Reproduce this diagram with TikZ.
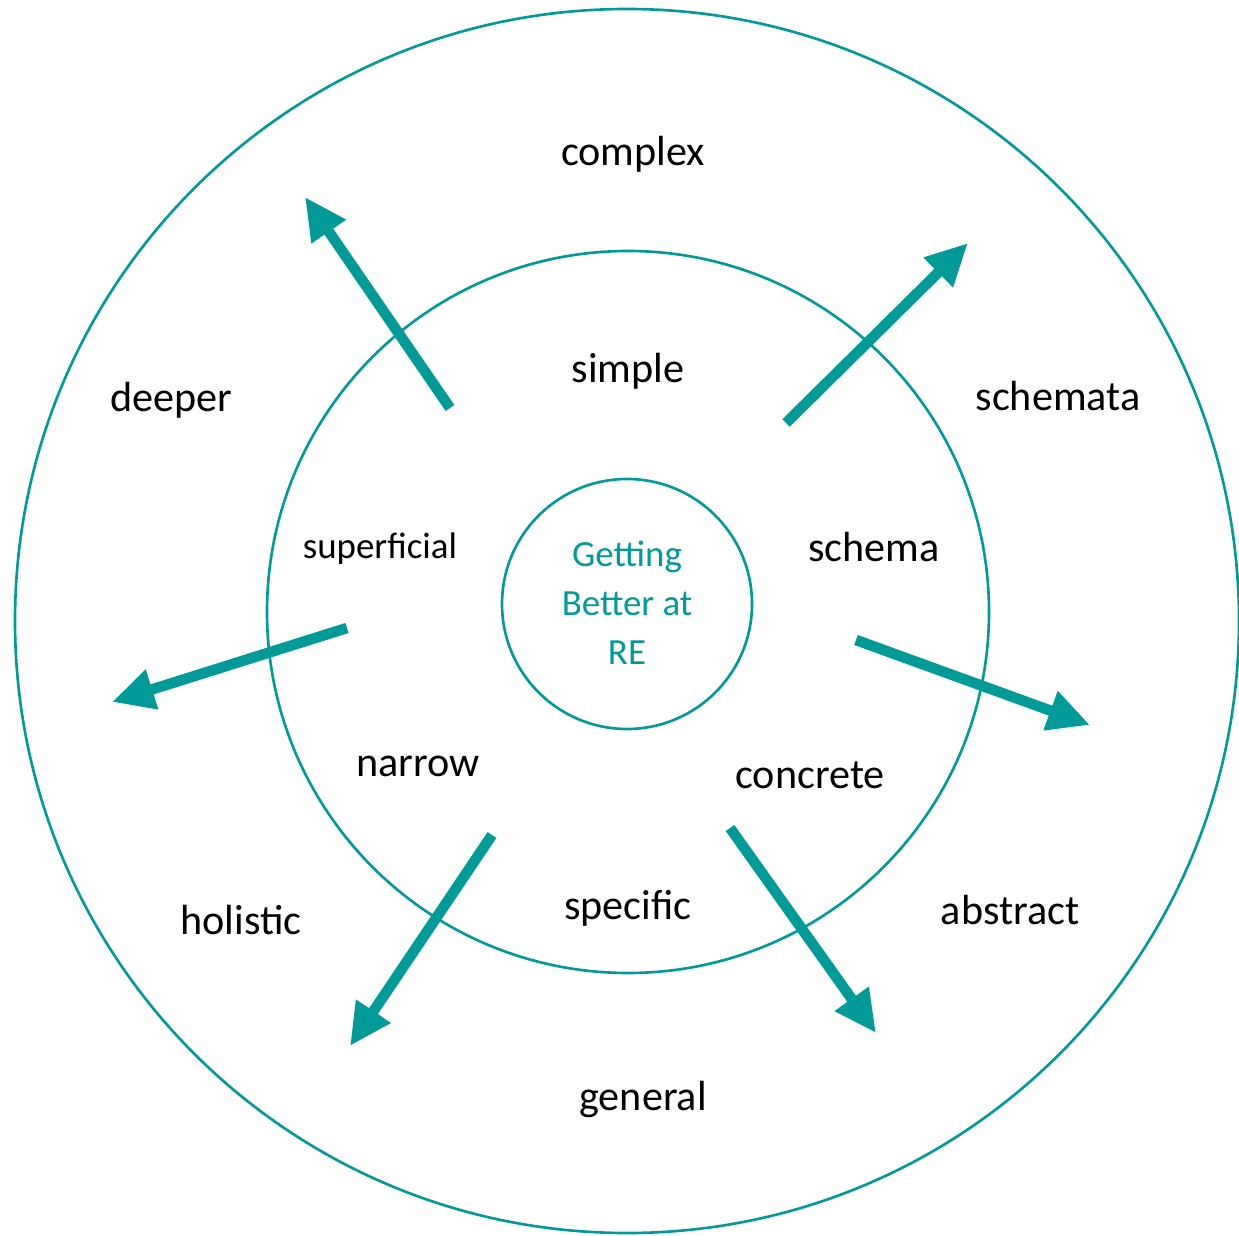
\documentclass[tikz,border=0pt]{standalone}
\usepackage{fontspec}
\setmainfont{Carlito}
\usepackage{tkz-euclide}
\usetikzlibrary{arrows.meta}
\definecolor{reteal}{RGB}{0,155,152}
\tikzset{
  ring/.style={draw=reteal,line width=0.75pt},
  spoke/.style={draw=reteal,line width=3pt,line cap=butt,
    -{Triangle[length=4.2mm,width=3.9mm]}},
  word/.style={inner sep=0pt,font=\fontsize{12}{14}\selectfont},
  smallword/.style={inner sep=0pt,font=\fontsize{10.5}{14}\selectfont}
}

\begin{document}
\begin{tikzpicture}
\useasboundingbox (0,0) rectangle (12.39,12.35);
% centres of the three rings, and a point on each
\tkzDefPoint(6.27,6.14){O_{out}}\tkzDefPoint(12.39,6.14){R_{out}}
\tkzDefPoint(6.28,6.23){O_{mid}}\tkzDefPoint(9.89,6.23){R_{mid}}
\tkzDefPoint(6.27,6.31){O_{in}}\tkzDefPoint(7.52,6.31){R_{in}}
\tkzDrawCircle[ring](O_{out},R_{out})
\tkzDrawCircle[ring](O_{mid},R_{mid})
\tkzDrawCircle[ring](O_{in},R_{in})
% arrow tails and tips
\tkzDefPoint(4.50,8.27){a1}\tkzDefPoint(3.05,10.38){b1}
\tkzDefPoint(7.86,8.12){a2}\tkzDefPoint(9.68,9.92){b2}
\tkzDefPoint(3.47,6.07){a3}\tkzDefPoint(1.12,5.33){b3}
\tkzDefPoint(8.56,5.95){a4}\tkzDefPoint(10.90,5.10){b4}
\tkzDefPoint(4.92,4.00){a5}\tkzDefPoint(3.50,1.89){b5}
\tkzDefPoint(7.30,4.07){a6}\tkzDefPoint(8.76,2.02){b6}
\tkzDrawSegments[spoke](a1,b1 a2,b2 a3,b3 a4,b4 a5,b5 a6,b6)
% centre
\node[smallword,text=reteal,align=center] (re) at (6.27,6.32)
  {Getting\\Better at\\RE};
% inner ring
\node[word] (simple) at (6.28,8.64) {simple};
\node[smallword] (superficial) at (3.80,6.86) {superficial};
\node[word] (schema) at (8.74,6.88) {schema};
\node[word] (narrow) at (4.18,4.69) {narrow};
\node[word] (concrete) at (8.10,4.60) {concrete};
\node[word] (specific) at (6.28,3.27) {specific};
% outer ring
\node[word] (complex) at (6.33,10.81) {complex};
\node[word] (deeper) at (1.71,8.35) {deeper};
\node[word] (schemata) at (10.58,8.39) {schemata};
\node[word] (holistic) at (2.41,3.15) {holistic};
\node[word] (abstract) at (10.10,3.25) {abstract};
\node[word] (general) at (6.43,1.36) {general};
\end{tikzpicture}
\end{document}
